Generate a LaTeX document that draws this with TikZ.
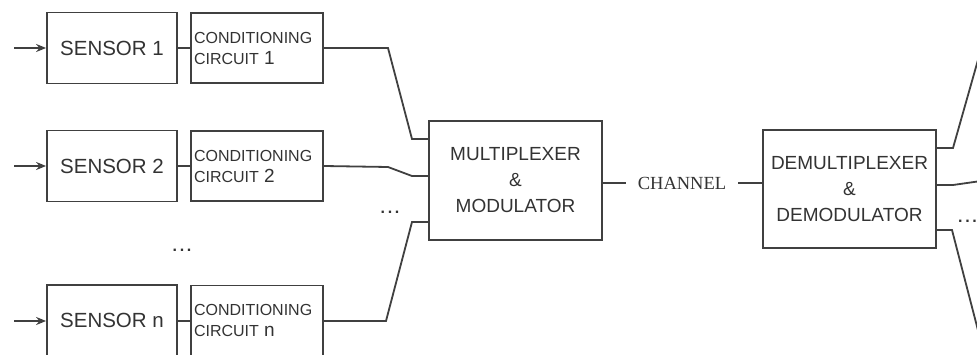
\documentclass[tikz,border=0pt]{standalone}
\usepackage{fontspec}
\setmainfont{Liberation Sans}
\newfontfamily\chanfont{Liberation Serif}
\usetikzlibrary{arrows.meta}
\definecolor{lc}{HTML}{404040}
\definecolor{tc}{HTML}{333333}
\newcommand{\bigch}[1]{{\fontsize{19}{21}\selectfont #1}}
\begin{document}
\begin{tikzpicture}[x=1pt,y=-1pt,
  wire/.style={draw=lc, line width=1.8pt},
  box/.style={draw=lc, line width=1.8pt, rectangle, inner sep=0pt, text=tc},
  sensorbox/.style={box, minimum width=130pt, minimum height=71pt, font=\fontsize{20.5}{22}\selectfont},
  condbox/.style={box, minimum width=132pt, minimum height=70pt, text width=126pt, align=left, font=\fontsize{16}{21}\selectfont},
  bigbox/.style={box, minimum width=173pt, minimum height=118pt, align=center, font=\fontsize{19}{26}\selectfont},
  dotsnode/.style={text=tc, font=\bfseries\fontsize{16}{18}\selectfont, inner sep=0pt},
  inarrow/.style={wire, -{Stealth[length=10pt,width=8pt]}}
]
\clip (0,0) rectangle (977,355);
\fill[white] (0,0) rectangle (977,355);

% sensors
\node[sensorbox] (s1) at (112,48) {SENSOR 1};
\node[sensorbox] (s2) at (112,166) {SENSOR 2};
\node[sensorbox] (sn) at (112,320.5) {SENSOR n};

% conditioning circuits
\node[condbox] (c1) at (257,48) {CONDITIONING\\CIRCUIT \bigch{1}};
\node[condbox] (c2) at (257,166) {CONDITIONING\\CIRCUIT \bigch{2}};
\node[condbox] (cn) at (257,320.5) {CONDITIONING\\CIRCUIT \bigch{n}};

% multiplexer and demultiplexer
\node[bigbox, minimum height=119pt] (mux) at (515.5,180.5) {MULTIPLEXER\\\&\\MODULATOR};
\node[bigbox] (dmx) at (849.5,189) {DEMULTIPLEXER\\\&\\DEMODULATOR};

% channel
\node[text=tc, font=\chanfont\fontsize{18.5}{20}\selectfont, inner xsep=12pt, inner ysep=0pt] (ch) at (682,183) {CHANNEL};

% dots
\node[dotsnode] (d1) at (182,250) {.\,.\,.};
\node[dotsnode] (d2) at (390,212) {.\,.\,.};
\node[dotsnode, anchor=west] (d3) at (958,221) {.\,.\,.};

% input arrows
\coordinate (a1) at (14,48);
\coordinate (a2) at (14,166);
\coordinate (an) at (14,321);
\draw[inarrow] (a1) -- (s1.west);
\draw[inarrow] (a2) -- (s2.west);
\draw[inarrow] (an) -- (an -| sn.west);

% sensor to conditioning
\draw[wire] (s1.east) -- (c1.west);
\draw[wire] (s2.east) -- (c2.west);
\draw[wire] (an -| sn.east) -- (an -| cn.west);

% conditioning to multiplexer
\coordinate (b1) at (388,48);
\coordinate (m1) at (412,139);
\coordinate (b2) at (388,167);
\coordinate (m2) at (412,176);
\coordinate (bn) at (386,321);
\coordinate (mn) at (412,222);
\draw[wire] (c1.east) -- (b1) -- (m1) -- (m1 -| mux.west);
\draw[wire] (c2.east) -- (b2) -- (m2) -- (m2 -| mux.west);
\draw[wire] (bn -| cn.east) -- (bn) -- (mn) -- (mn -| mux.west);

% channel links
\draw[wire] (ch.west -| mux.east) -- (ch.west);
\draw[wire] (ch.east) -- (ch.east -| dmx.west);

% demultiplexer outputs
\coordinate (o1) at (953,148);
\coordinate (e1) at (995,0);
\coordinate (o2) at (953,185);
\coordinate (e2) at (995,179);
\coordinate (o3) at (952,230);
\coordinate (e3) at (987,365);
\draw[wire] (o1 -| dmx.east) -- (o1) -- (e1);
\draw[wire] (o2 -| dmx.east) -- (o2) -- (e2);
\draw[wire] (o3 -| dmx.east) -- (o3) -- (e3);
\end{tikzpicture}
\end{document}
